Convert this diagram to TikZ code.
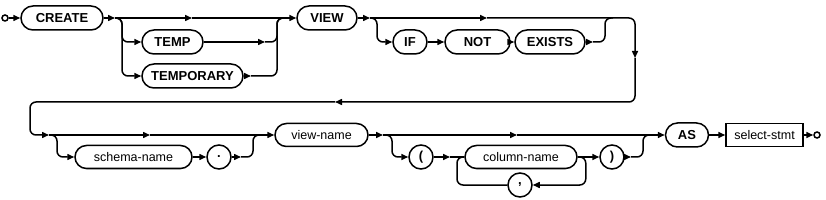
\documentclass[tikz,border=0pt]{standalone}
\usepackage{fontspec}
\setmainfont{Liberation Sans}
\usetikzlibrary{arrows.meta,shapes.misc}
\begin{document}
\begin{tikzpicture}[x=1pt,y=-1pt,
  rr/.style={line width=1.5pt, rounded corners=6pt},
  ar/.style={rr, -{Triangle[length=7pt,width=6pt]}},
  kw/.style={draw, line width=1.5pt, rounded rectangle, minimum height=24pt, inner xsep=0pt, inner ysep=0pt, font=\fontsize{13}{15}\selectfont\bfseries},
  nt/.style={draw, line width=1.5pt, rounded rectangle, minimum height=23pt, inner xsep=0pt, inner ysep=0pt, font=\fontsize{12.5}{14}\selectfont},
  tc/.style={draw, line width=1.5pt, circle, minimum size=24pt, inner sep=0pt, font=\fontsize{13}{15}\selectfont\bfseries},
  rb/.style={draw, line width=1.5pt, rectangle, minimum height=23pt, inner xsep=0pt, inner ysep=0pt, font=\fontsize{12.5}{14}\selectfont},
  ends/.style={draw, line width=1.5pt, circle, minimum size=6pt, inner sep=0pt}]
\useasboundingbox (0,0) rectangle (826,200);
% row 1 nodes
\node[ends] (start) at (5,18) {};
\node[kw, minimum width=82pt] (create) at (62,18) {CREATE};
\node[kw, minimum width=61pt] (temp) at (172.5,42) {TEMP};
\node[kw, minimum width=101pt] (temporary) at (192.5,76) {TEMPORARY};
\node[kw, minimum width=60pt] (view) at (327,18) {VIEW};
\node[kw, minimum width=34pt] (if) at (410,42) {IF};
\node[kw, minimum width=65pt] (not) at (477.5,42) {NOT};
\node[kw, minimum width=70pt] (exists) at (550,42) {EXISTS};
% row 2 nodes
\node[nt, minimum width=117pt] (schema) at (133.5,157) {schema-name};
\node[tc] (dot) at (219,157) {.};
\node[nt, minimum width=93pt] (viewname) at (321.5,135) {view-name};
\node[tc] (lp) at (421,157) {(};
\node[nt, minimum width=112pt] (col) at (521,157) {column-name};
\node[tc] (comma) at (520,185) {,};
\node[tc] (rp) at (612,157) {)};
\node[kw, minimum width=43pt] (as) at (687,135) {AS};
\node[rb, minimum width=77pt] (sel) at (764.5,135) {select-stmt};
\node[ends] (fin) at (817,135) {};
% junction coordinates
\coordinate (a1) at (115,18);
\coordinate (m1) at (192,18);
\coordinate (t1) at (265,42);
\coordinate (t2) at (251,76);
\coordinate (j1) at (277,18);
\coordinate (a2) at (370,18);
\coordinate (m2) at (487,18);
\coordinate (t6) at (593,42);
\coordinate (j6) at (605,18);
\coordinate (d1) at (635,58);
\coordinate (m3) at (335,102);
\coordinate (c2) at (30,118);
\coordinate (a3) at (49,135);
\coordinate (m4) at (150,135);
\coordinate (t3) at (241,157);
\coordinate (j3) at (253,135);
\coordinate (a4) at (383,135);
\coordinate (m5) at (517,135);
\coordinate (t4) at (450,157);
\coordinate (j4) at (457,157);
\coordinate (t5) at (631,157);
\coordinate (j5) at (643,135);
% row 1 connectors
\draw[ar] (start.east) -- (create.west);
\draw[ar] (create.east) -- (a1);
\draw[ar] (a1) -- (m1);
\draw[ar] (m1) -- (view.west);
\draw[ar] (a1) -- ++(7,0) |- (temp.west);
\draw[ar] (a1) -- ++(7,0) |- (temporary.west);
\draw[ar] (temp.east) -- (t1);
\draw[rr] (t1) -| (j1) -- ++(8,0);
\draw[ar] (temporary.east) -- (t2);
\draw[rr] (t2) -| (j1) -- ++(8,0);
\draw[ar] (view.east) -- (a2);
\draw[ar] (a2) -- (m2);
\draw[ar] (a2) -- ++(7,0) |- (if.west);
\draw[ar] (if.east) -- (not.west);
\draw[ar] (not.east) -- (exists.west);
\draw[ar] (exists.east) -- (t6);
\draw[rr] (t6) -| (j6) -- ++(8,0);
\draw[ar] (m2) -| (d1);
\draw[ar] (d1) |- (m3);
\draw[ar] (m3) -| (c2) |- (a3);
% row 2 connectors
\draw[ar] (a3) -- (m4);
\draw[ar] (m4) -- (viewname.west);
\draw[ar] (a3) -- ++(8,0) |- (schema.west);
\draw[ar] (schema.east) -- (dot.west);
\draw[ar] (dot.east) -- (t3);
\draw[rr] (t3) -| (j3) -- ++(8,0);
\draw[ar] (viewname.east) -- (a4);
\draw[ar] (a4) -- (m5);
\draw[ar] (m5) -- (as.west);
\draw[ar] (a4) -- ++(9,0) |- (lp.west);
\draw[ar] (lp.east) -- (t4);
\draw[rr] (t4) -- (col.west);
\draw[ar] (col.east) -- (rp.west);
\draw[ar] (col.east) -- ++(8,0) |- (comma.east);
\draw[rr] (comma.west) -| (j4) -- (col.west);
\draw[ar] (rp.east) -- (t5);
\draw[rr] (t5) -| (j5) -- ++(8,0);
\draw[ar] (as.east) -- (sel.west);
\draw[ar] (sel.east) -- (fin.west);
\end{tikzpicture}
\end{document}
